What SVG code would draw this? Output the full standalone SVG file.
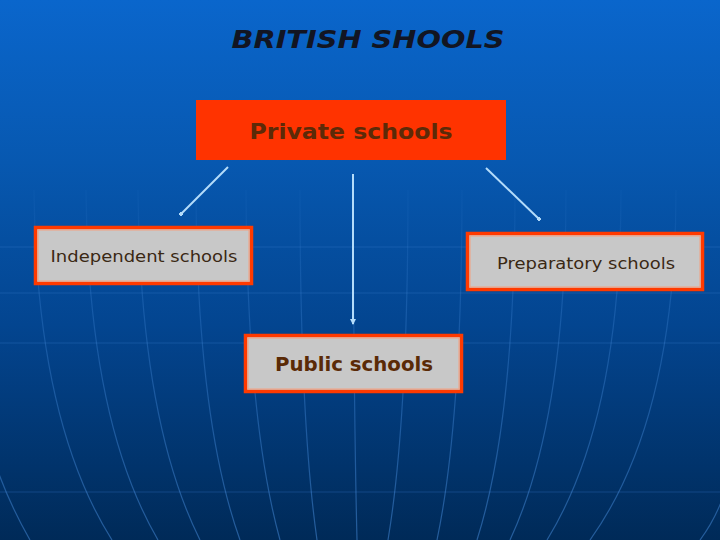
<svg xmlns="http://www.w3.org/2000/svg" width="720" height="540" viewBox="0 0 720 540">
<defs>
<linearGradient id="bg" x1="0" y1="0" x2="0" y2="1">
<stop offset="0" stop-color="#0a66cc"/>
<stop offset="0.3" stop-color="#0758b0"/>
<stop offset="0.6" stop-color="#034590"/>
<stop offset="1" stop-color="#002a58"/>
</linearGradient>
<linearGradient id="gl" gradientUnits="userSpaceOnUse" x1="0" y1="190" x2="0" y2="540">
<stop offset="0" stop-color="#4a90e0" stop-opacity="0.05"/>
<stop offset="0.3" stop-color="#4a90e0" stop-opacity="0.25"/>
<stop offset="1" stop-color="#4a90e0" stop-opacity="0.5"/>
</linearGradient>
<marker id="dot" viewBox="0 0 4 4" refX="2" refY="2" markerWidth="2" markerHeight="2" orient="auto">
<rect width="4" height="4" fill="#b4dcfa"/>
</marker>
<marker id="arr" viewBox="0 0 6 6" refX="5" refY="3" markerWidth="3" markerHeight="3" orient="auto">
<path d="M0,0 L6,3 L0,6 z" fill="#b4dcfa"/>
</marker>
<style>
.grid{fill:none;stroke:url(#gl);stroke-width:1.2}
.hl{stroke:#3c82d0;stroke-opacity:0.3;stroke-width:1}
.conn{stroke:#b4dcfa;stroke-width:2;fill:none}
.box{fill:#c8c8c8;stroke:#ff3a00;stroke-width:3.5}
.inner{fill:none;stroke:#f4a080;stroke-width:1}
.t{font-family:"DejaVu Sans",Verdana,sans-serif;text-anchor:middle}
</style>
</defs>
<rect width="720" height="540" fill="url(#bg)"/>
<g id="grid">
<line class="hl" x1="0" y1="247" x2="720" y2="247"/>
<line class="hl" x1="0" y1="293" x2="720" y2="293"/>
<line class="hl" x1="0" y1="343" x2="720" y2="343"/>
<line class="hl" x1="0" y1="492" x2="720" y2="492"/>
<path class="grid" d="M34,190 Q36,420 112,540"/>
<path class="grid" d="M86,190 Q88,420 158,540"/>
<path class="grid" d="M138,190 Q140,420 200,540"/>
<path class="grid" d="M196,190 Q197,420 240,540"/>
<path class="grid" d="M246,190 Q247,420 280,540"/>
<path class="grid" d="M300,190 Q300,420 317,540"/>
<path class="grid" d="M353,190 Q354,420 357,540"/>
<path class="grid" d="M408,190 Q408,420 388,540"/>
<path class="grid" d="M462,190 Q462,420 437,540"/>
<path class="grid" d="M515,190 Q515,420 477,540"/>
<path class="grid" d="M566,190 Q566,420 510,540"/>
<path class="grid" d="M621,190 Q621,420 547,540"/>
<path class="grid" d="M676,190 Q676,420 590,540"/>
<path class="grid" d="M-20,400 Q-10,470 30,540"/>
<path class="grid" d="M735,440 Q730,500 700,540"/>
</g>
<text class="t" x="368" y="48" font-size="25" font-weight="bold" font-style="italic" fill="#121522" textLength="273" lengthAdjust="spacingAndGlyphs">BRITISH SHOOLS</text>
<g id="connectors">
<line class="conn" x1="228" y1="167" x2="181" y2="214" marker-end="url(#dot)"/>
<line class="conn" x1="353" y1="174" x2="353" y2="324" marker-end="url(#arr)"/>
<line class="conn" x1="486" y1="168" x2="539" y2="219" marker-end="url(#dot)"/>
</g>
<g id="private">
<rect x="196" y="100" width="310" height="60" fill="#ff3300"/>
<text class="t" x="351" y="139" font-size="21" font-weight="bold" fill="#5c2a08" textLength="203" lengthAdjust="spacingAndGlyphs">Private schools</text>
</g>
<g id="independent">
<rect class="box" x="35.5" y="227.5" width="216" height="56"/>
<rect class="inner" x="38" y="230" width="211" height="51"/>
<text class="t" x="144" y="262" font-size="16.5" fill="#3a2814" textLength="187" lengthAdjust="spacingAndGlyphs">Independent schools</text>
</g>
<g id="preparatory">
<rect class="box" x="467.5" y="233.5" width="235" height="56"/>
<rect class="inner" x="470" y="236" width="230" height="51"/>
<text class="t" x="586" y="269" font-size="16.5" fill="#3a2814" textLength="178" lengthAdjust="spacingAndGlyphs">Preparatory schools</text>
</g>
<g id="public">
<rect class="box" x="245.5" y="335.5" width="216" height="56"/>
<rect class="inner" x="248" y="338" width="211" height="51"/>
<text class="t" x="354" y="371" font-size="19" font-weight="bold" fill="#5a2a06" textLength="158" lengthAdjust="spacingAndGlyphs">Public schools</text>
</g>
</svg>
